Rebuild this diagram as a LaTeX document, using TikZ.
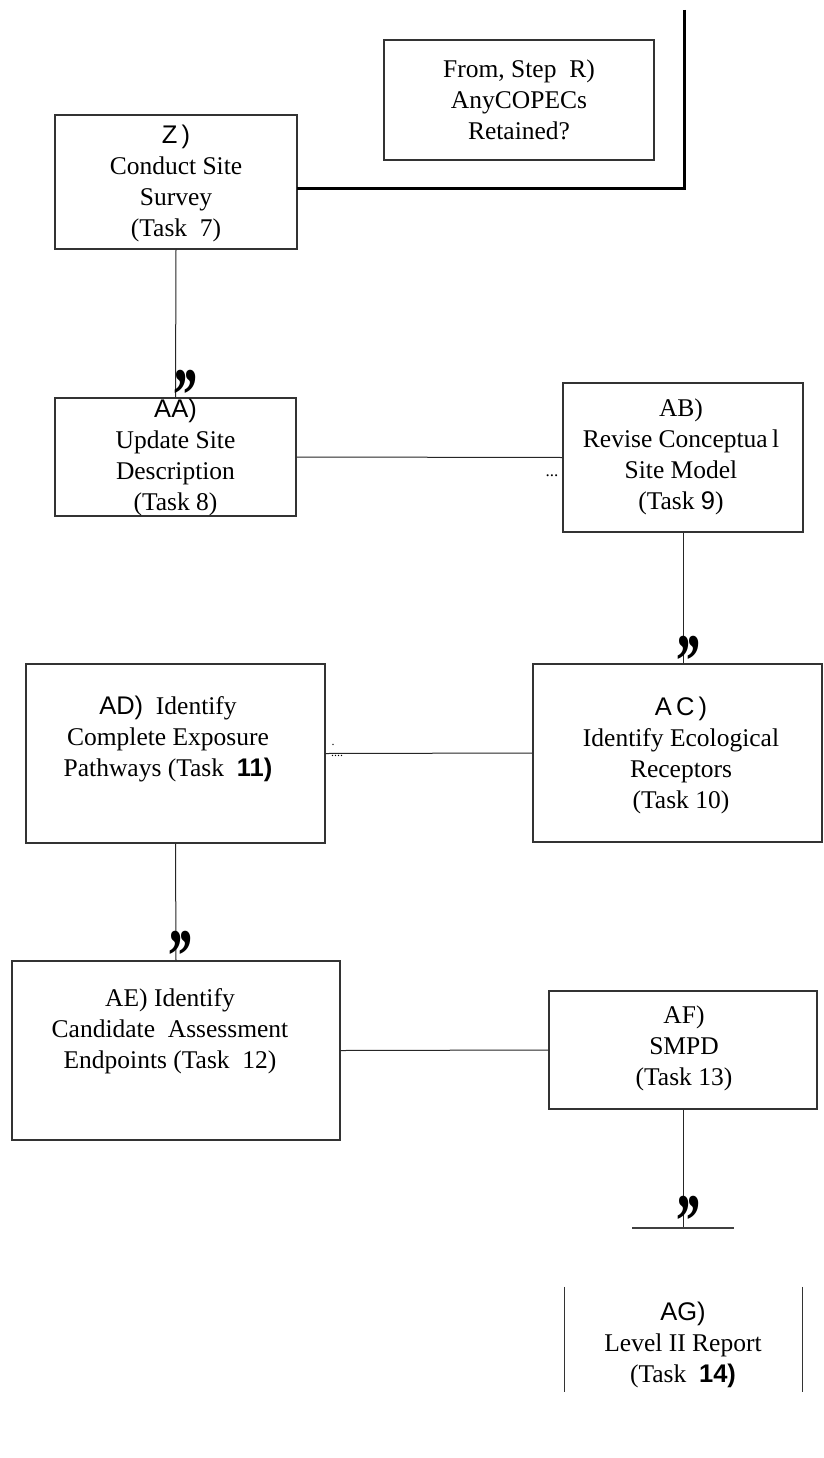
\documentclass[tikz,border=0pt]{standalone}
\usepackage{fontspec}
\usepackage{graphicx}
\setmainfont{Liberation Serif}
\newfontfamily\sansf{Liberation Sans}
\newcommand{\dblcomma}{\scalebox{1.1}[1.6]{\bfseries ,\kern-3pt,}}
\tikzset{
  box/.style={draw=black!80, line width=1.3pt, inner sep=0pt},
  conn/.style={draw=black!85, line width=1pt},
  heavy/.style={draw=black, line width=3pt, line join=miter},
  lbl/.style={align=center, font=\fontsize{25.5}{31}\selectfont, inner sep=0pt},
  quotemark/.style={font=\fontsize{48}{48}\selectfont, inner sep=0pt},
  tiny/.style={font=\fontsize{15}{15}\selectfont, inner sep=0pt}
}
\begin{document}
\begin{tikzpicture}[x=1pt,y=-1pt]
\useasboundingbox (0,0) rectangle (823,1458);
\fill[white] (0,0) rectangle (823,1458);

% boxes
\node[box, minimum width=270pt, minimum height=120pt] (from) at (519,100) {};
\node[box, minimum width=242pt, minimum height=134pt] (Z) at (176,182) {};
\node[box, minimum width=241pt, minimum height=118pt] (AA) at (175.5,457) {};
\node[box, minimum width=240pt, minimum height=149pt] (AB) at (683,457.5) {};
\node[box, minimum width=289pt, minimum height=178pt] (AC) at (677.5,753) {};
\node[box, minimum width=299pt, minimum height=179pt] (AD) at (175.5,753.5) {};
\node[box, minimum width=328pt, minimum height=179pt] (AE) at (176,1050.5) {};
\node[box, minimum width=268pt, minimum height=118pt] (AF) at (683,1050) {};
\node[inner sep=0pt, minimum width=237pt, minimum height=105pt] (AGbox) at (683.5,1339.5) {};

% texts
\node[lbl] (fromt) at (519,100) {From, Step\ \ R)\\AnyCOPECs\\Retained?};
\node[lbl] (Zt) at (176,183) {{\sansf Z\,)}\\Conduct Site\\Survey\\(Task\ \ 7)};
\node[lbl] (AAt) at (175.5,457) {{\sansf AA)}\\Update Site\\Description\\(Task\ 8)};
\node[lbl] (ABt) at (681,457) {AB)\\Revise Conceptua\,l\\Site Model\\(Task {\sansf 9})};
\node[lbl] (ACt) at (681,755) {{\sansf A\,C\,)}\\Identify Ecological\\Receptors\\(Task 10)};
\node[lbl] (ADt) at (168,739) {{\sansf AD)}\ \ Identify\\Complete Exposure\\Pathways (Task\ \ {\sansf\bfseries 11)}};
\node[lbl] (AEt) at (170,1031) {AE) Identify\\Candidate\ \ Assessment\\Endpoints (Task\ \ 12)};
\node[lbl] (AFt) at (684,1048) {AF)\\SMPD\\(Task 13)};
\node[lbl] (AGt) at (683,1345) {{\sansf AG)}\\Level II Report\\(Task\ \ {\sansf\bfseries 14)}};

% connectors
\coordinate (topc) at (684,10);
\coordinate (zc) at (297,189);
\draw[heavy] (topc) |- (zc);
\draw[conn] (Z.south) -- (AA.north);
\draw[conn] (AA.east) -- (AB.west);
\draw[conn] (AB.south) -- (AB.south |- AC.north);
\draw[conn] (AD.east) -- (AC.west);
\draw[conn] (AD.south) -- (AE.north);
\draw[conn] (AE.east) -- (AF.west);
\coordinate (agtop) at (683,1228);
\coordinate (agl) at (632,1228);
\coordinate (agr) at (734,1228);
\draw[conn] (AF.south) -- (agtop);
\draw[conn, line width=1.5pt, draw=black!75] (agl) -- (agr);
\draw[box] (AGbox.north west) -- (AGbox.south west);
\draw[box] (AGbox.north east) -- (AGbox.south east);

% quote marks
\node[quotemark] (q1) at (186,382) {\dblcomma};
\node[quotemark] (q2) at (689,648) {\dblcomma};
\node[quotemark] (q3) at (181,943) {\dblcomma};
\node[quotemark] (q4) at (689,1208) {\dblcomma};

% small marks
\node[tiny, font=\fontsize{17}{17}\selectfont] (m1) at (552,476) {...};
\node[tiny, font=\fontsize{12}{12}\selectfont] (m2) at (333,745) {.};
\node[tiny, font=\fontsize{12}{12}\selectfont] (m3) at (337,756) {....};
\end{tikzpicture}
\end{document}
